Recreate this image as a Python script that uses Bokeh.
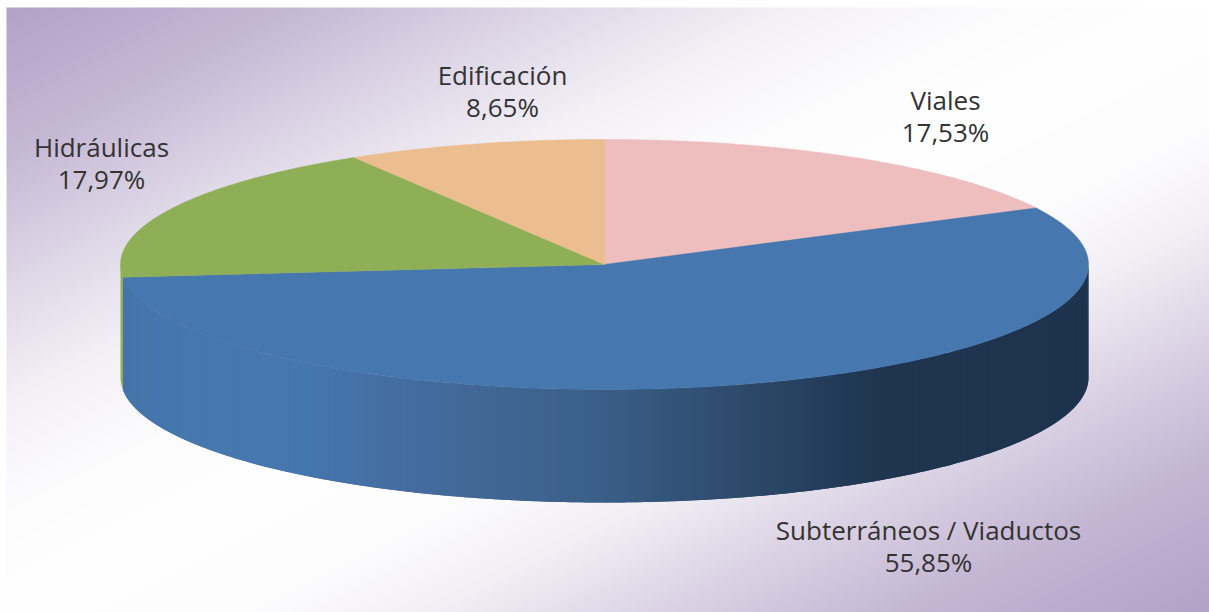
import numpy as np
from bokeh.plotting import figure
from bokeh.models import Range1d
from bokeh.core.properties import value
from bokeh.embed import file_html
from bokeh.resources import INLINE

# ---- data ----
categories = ["Viales", "Subterráneos / Viaductos", "Hidráulicas", "Edificación"]
shares = [17.53, 55.85, 17.97, 8.65]
top_colors = ["#EEBDBD", "#4677AF", "#8FAF57", "#ECBD8F"]

# ---- layout ----
W, H = 1209, 612
CX, CY, RX, RY, DEPTH = 604.0, 264.0, 484.0, 125.0, 113.0
label_pos = [(945, 115), (928, 545), (101, 162), (502, 90)]
LINE_GAP = 16
FONT = "Open Sans"
FONT_SIZE = "26px"
BG_X, BG_Y = 6, 7


def sy(py):
    return H - py


def ring(a0, a1, n):
    a = np.radians(np.linspace(a0, a1, n))
    return CX + RX * np.sin(a), CY - RY * np.cos(a)


p = figure(width=W, height=H, output_backend="svg", toolbar_location=None,
           x_range=Range1d(0, W), y_range=Range1d(0, H), min_border=0,
           outline_line_color=None, background_fill_color="white",
           border_fill_color="white")
p.axis.visible = False
p.grid.visible = False

# background diagonal gradient
bw, bh = W - BG_X, H - BG_Y
ys, xs = np.mgrid[0:bh // 2, 0:bw // 2]
u = (xs + 0.5) / (bw // 2)
v = 1 - (ys + 0.5) / (bh // 2)  # row 0 is at the bottom of the image
t = (u + v) / 2
mix = np.interp(t, [0, .125, .23, .33, .42, .5, .6, .68, .78, .875, 1],
                [0, .25, .58, .85, .97, 1, .97, .82, .5, .22, 0])
bg = np.zeros(t.shape, dtype=np.uint32)
view = bg.view(np.uint8).reshape(t.shape + (4,))
view[..., 0] = (0xB3 + (255 - 0xB3) * mix).astype(np.uint8)
view[..., 1] = (0xA2 + (255 - 0xA2) * mix).astype(np.uint8)
view[..., 2] = (0xC7 + (255 - 0xC7) * mix).astype(np.uint8)
view[..., 3] = 255
p.image_rgba(image=[bg], x=BG_X, y=0, dw=bw, dh=bh)

# slice angles from the values
edges = np.concatenate([[0], np.cumsum(shares)]) / np.sum(shares) * 360.0

# side wall: overlapping strips, each covering the overlap of the one before
stop_x = [121, 180, 300, 420, 600, 760, 880, 1089]
stop_r = [0x44, 0x46, 0x46, 0x44, 0x3B, 0x2C, 0x1F, 0x1E]
stop_g = [0x74, 0x77, 0x77, 0x6C, 0x5F, 0x47, 0x35, 0x33]
stop_b = [0xA9, 0xAF, 0xAF, 0x9E, 0x88, 0x68, 0x50, 0x4E]
a0, a1 = 90.0, edges[2]
steps = np.linspace(a0, a1, 181)
qx, qy, qc = [], [], []
for i in range(len(steps) - 1):
    end = steps[min(i + 2, len(steps) - 1)]
    x_, y_ = ring(steps[i], end, 4)
    xm = np.mean(ring(steps[i], steps[i + 1], 2)[0])
    c = "#%02x%02x%02x" % (int(np.interp(xm, stop_x, stop_r)),
                            int(np.interp(xm, stop_x, stop_g)),
                            int(np.interp(xm, stop_x, stop_b)))
    qx.append(np.concatenate([x_, x_[::-1]]))
    qy.append(sy(np.concatenate([y_, y_[::-1] + DEPTH])))
    qc.append(c)
p.patches(qx, qy, fill_color=qc, line_color=None)

# green wall sliver
x_, y_ = ring(edges[2], 270.0, 5)
p.patch(np.concatenate([x_, x_[::-1]]), sy(np.concatenate([y_, y_[::-1] + DEPTH])),
        fill_color=top_colors[2], line_color=None)

# top slices
for i, col in enumerate(top_colors):
    n = max(int(edges[i + 1] - edges[i]) * 2, 8)
    x_, y_ = ring(edges[i], edges[i + 1], n)
    p.patch(np.concatenate([[CX], x_]), sy(np.concatenate([[CY], y_])),
            fill_color=col, line_color=col, line_width=0.5)

# labels
for name, val, (lx, ly) in zip(categories, shares, label_pos):
    pct = f"{val:.2f}%".replace(".", ",")
    p.text([lx], [sy(ly - LINE_GAP)], text=[name], text_font=value(FONT), text_font_size=FONT_SIZE,
           text_align="center", text_baseline="middle", text_color="#333333")
    p.text([lx], [sy(ly + LINE_GAP)], text=[pct], text_font=value(FONT), text_font_size=FONT_SIZE,
           text_align="center", text_baseline="middle", text_color="#333333")

open("out.html", "w").write(file_html(p, INLINE))
